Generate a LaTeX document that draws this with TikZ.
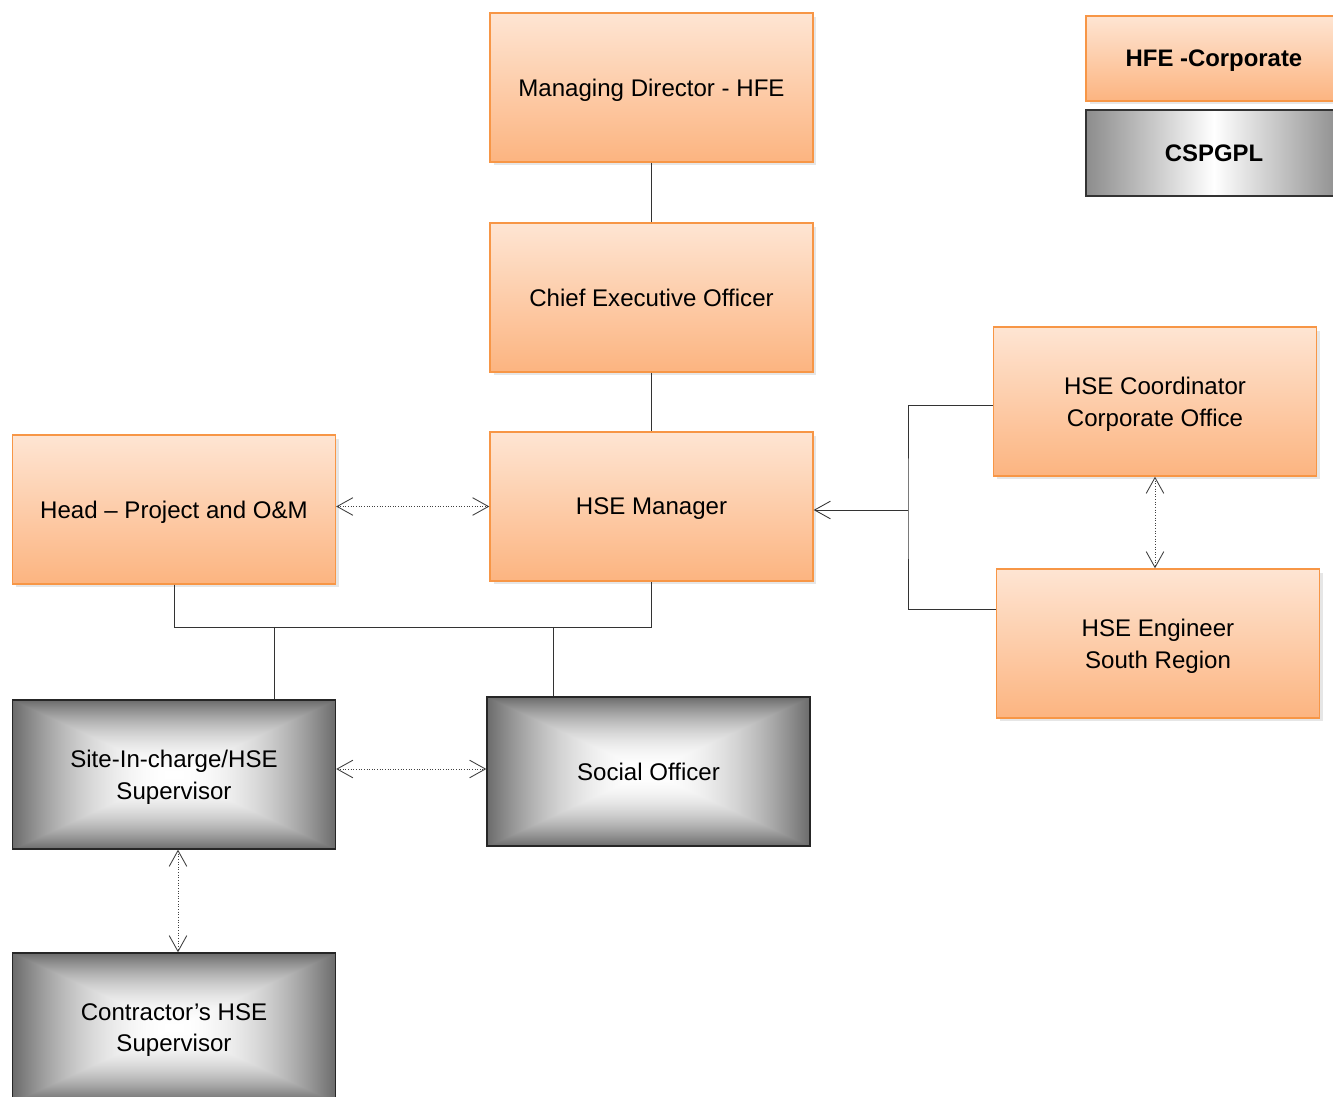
\documentclass[tikz,border=0pt]{standalone}
\usepackage{fontspec}
\setmainfont{Liberation Sans}
\usetikzlibrary{arrows.meta, shadows}

\definecolor{peach}{RGB}{254,229,211}
\definecolor{apricot}{RGB}{252,180,128}
\definecolor{rim}{RGB}{247,150,70}
% white centre fading to grey towards the four sides
\pgfdeclarefunctionalshading{glow}{\pgfpoint{-50bp}{-50bp}}{\pgfpoint{50bp}{50bp}}{}{
  abs exch abs 2 copy lt {exch} if pop 25 div dup mul 0.58 mul 1 exch sub dup dup}

\begin{document}
\begin{tikzpicture}[x=0.02cm, y=-0.02cm,
    every node/.style={font=\fontsize{13.7}{18}\selectfont, align=center, text depth=0pt},
    orangebox/.style={draw=rim, thick, top color=peach, bottom color=apricot,
        minimum width=6.46cm, minimum height=2.98cm,
        drop shadow={opacity=0.2, shadow xshift=2pt, shadow yshift=-2pt}},
    greybox/.style={draw=black!85, thick, shading=glow,
        minimum width=6.46cm, minimum height=2.98cm},
    link/.style={line width=0.5pt, draw=black!80},
    barb/.tip={Straight Barb[length=9pt, width=10pt]},
    twoway/.style={densely dotted, line width=0.5pt, draw=black!75, barb-barb}]
    \useasboundingbox (0,0) rectangle (1333,1097);

    % legend
    \node[orangebox, minimum width=5.12cm, minimum height=1.7cm, font=\fontsize{13.6}{18}\selectfont\bfseries] (hfe) at (1214,58.5) {HFE -Corporate};
    \node[draw=black!80, thick, left color=black!45, right color=black!45, middle color=white,
        minimum width=5.12cm, minimum height=1.72cm, font=\fontsize{13.6}{18}\selectfont\bfseries] (csp) at (1214,153) {CSPGPL};

    % chart
    \node[orangebox] (md) at (651.5,87.5) {Managing Director - HFE};
    \node[orangebox] (ceo) at (651.5,297.5) {Chief Executive Officer};
    \node[orangebox] (mgr) at (651.5,506.5) {HSE Manager};
    \node[orangebox] (head) at (174,509.5) {Head – Project and O\&M};
    \node[orangebox] (coord) at (1155,401.5) {HSE Coordinator\\Corporate Office};
    \node[orangebox] (eng) at (1158,643.5) {HSE Engineer\\South Region};
    \node[greybox] (site) at (174,774.5) {Site-In-charge/HSE\\Supervisor};
    \node[greybox] (social) at (648.5,771.5) {Social Officer};
    \node[greybox] (contractor) at (174,1027.5) {Contractor’s HSE\\Supervisor};

    \coordinate (bus) at (400,627);
    \coordinate (fork) at (908,510);

    \draw[link] (md) -- (ceo);
    \draw[link] (ceo) -- (mgr);
    \draw[twoway] (head.east |- mgr) -- (mgr.west);
    \draw[link] (head.south) |- (mgr.south |- bus) -- (mgr.south);
    \draw[link] ([xshift=2cm]site.north |- bus) -- ([xshift=2cm]site.north);
    \draw[link] ([xshift=-1.91cm]social.north |- bus) -- ([xshift=-1.91cm]social.north);
    \draw[twoway] ([yshift=0.05cm]site.east |- social) -- ([yshift=0.05cm]social.west);
    \draw[twoway] ([xshift=0.08cm]site.south) -- ([xshift=0.08cm]contractor.north);
    \draw[link] ([yshift=-0.07cm]coord.west) -| (fork) |- ([yshift=0.69cm]eng.west);
    \draw[link, -barb] (fork) -- (mgr.east |- fork);
    \draw[twoway] (coord.south) -- (coord.south |- eng.north);
\end{tikzpicture}
\end{document}
